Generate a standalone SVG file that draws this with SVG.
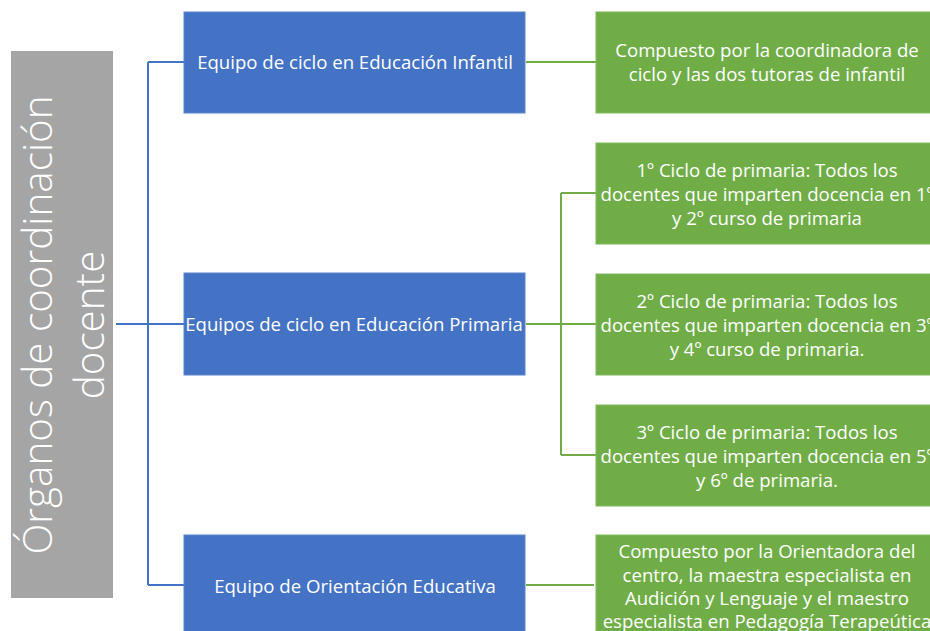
<svg xmlns="http://www.w3.org/2000/svg" width="930" height="631" viewBox="0 0 930 631">
<style>
.blue{fill:#4472C4;stroke:#5B84CE;stroke-width:1}
.green{fill:#70AD47;stroke:#82B85E;stroke-width:1}
.t{font-family:"Open Sans","Liberation Sans",sans-serif;font-size:18.6px;fill:#fff;text-anchor:middle}
.big{font-family:"Open Sans","Liberation Sans",sans-serif;font-size:40.4px;font-weight:300;fill:#fff;text-anchor:middle}
.cb{fill:none;stroke:#4472C4;stroke-width:2}
.cg{fill:none;stroke:#70AD47;stroke-width:2}
</style>
<rect width="930" height="631" fill="#fff"/>
<g id="connectors">
<path class="cb" d="M116 324H184M148 62V585M148 62H184M148 585H184"/>
<path class="cg" d="M526 62H596"/>
<path class="cg" d="M526 324H596M561 193V455M561 193H596M561 455H596"/>
<path class="cg" d="M526 585H594"/>
</g>
<g id="root">
<rect x="11" y="51" width="102" height="547" fill="#A5A5A5"/>
<text class="big" transform="rotate(-90)"><tspan x="-325" y="52">Órganos de coordinación</tspan><tspan x="-325" y="104">docente</tspan></text>
</g>
<g id="infantil">
<rect class="blue" x="184" y="12" width="341" height="101"/>
<text class="t" x="355" y="69">Equipo de ciclo en Educación Infantil</text>
</g>
<g id="primaria">
<rect class="blue" x="184" y="273" width="341" height="102"/>
<text class="t" x="354" y="331">Equipos de ciclo en Educación Primaria</text>
</g>
<g id="orientacion">
<rect class="blue" x="184" y="535" width="341" height="102"/>
<text class="t" x="355" y="593">Equipo de Orientación Educativa</text>
</g>
<g id="infantil-desc">
<rect class="green" x="596" y="12" width="342" height="101"/>
<text class="t"><tspan x="767" y="57">Compuesto por la coordinadora de</tspan><tspan x="767" y="81">ciclo y las dos tutoras de infantil</tspan></text>
</g>
<g id="ciclo1">
<rect class="green" x="596" y="143" width="342" height="101"/>
<text class="t"><tspan x="767" y="177">1º Ciclo de primaria: Todos los</tspan><tspan x="767" y="201">docentes que imparten docencia en 1º</tspan><tspan x="767" y="225">y 2º curso de primaria</tspan></text>
</g>
<g id="ciclo2">
<rect class="green" x="596" y="274" width="342" height="101"/>
<text class="t"><tspan x="767" y="308">2º Ciclo de primaria: Todos los</tspan><tspan x="767" y="332">docentes que imparten docencia en 3º</tspan><tspan x="767" y="356">y 4º curso de primaria.</tspan></text>
</g>
<g id="ciclo3">
<rect class="green" x="596" y="405" width="342" height="101"/>
<text class="t"><tspan x="767" y="439">3º Ciclo de primaria: Todos los</tspan><tspan x="767" y="463">docentes que imparten docencia en 5º</tspan><tspan x="767" y="487">y 6º de primaria.</tspan></text>
</g>
<g id="orientacion-desc">
<rect class="green" x="596" y="535" width="342" height="102"/>
<text class="t"><tspan x="767" y="558">Compuesto por la Orientadora del</tspan><tspan x="767" y="582">centro, la maestra especialista en</tspan><tspan x="767" y="605">Audición y Lenguaje y el maestro</tspan><tspan x="767" y="628">especialista en Pedagogía Terapeútica</tspan></text>
</g>
</svg>
